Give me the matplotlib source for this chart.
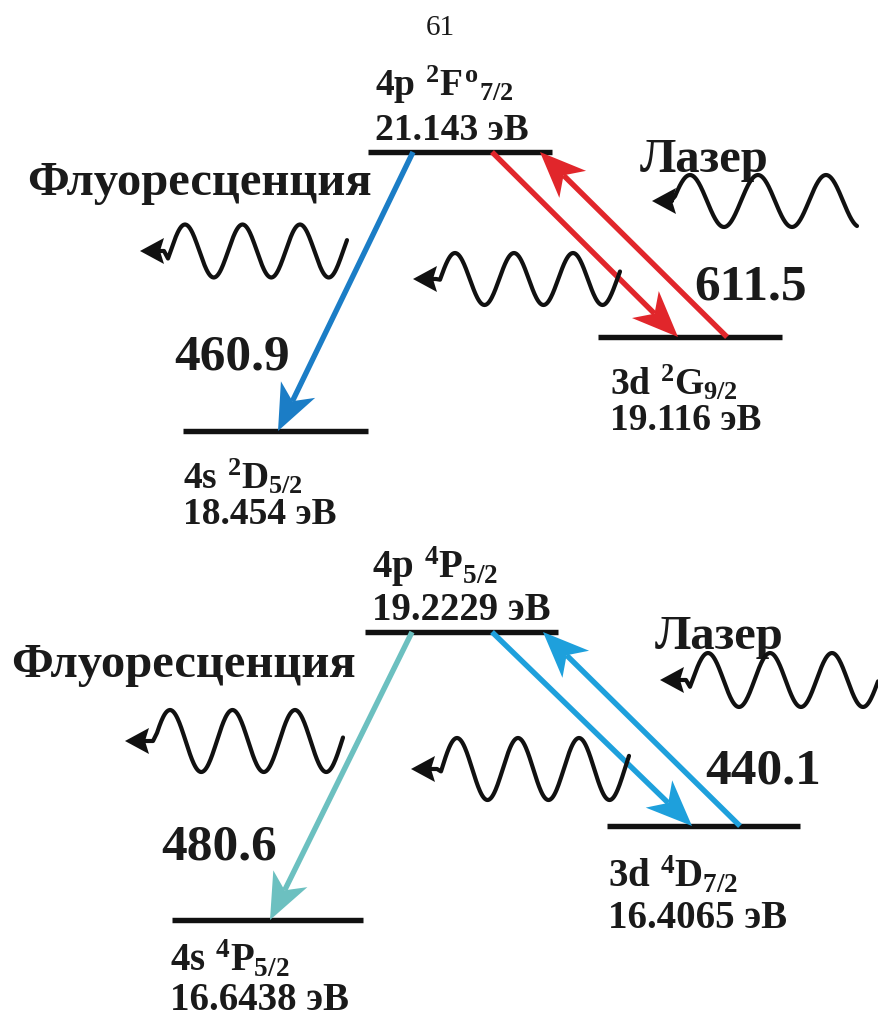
import matplotlib
matplotlib.use("Agg")
import matplotlib.pyplot as plt
from matplotlib.patches import Polygon
import numpy as np

plt.rcParams['font.family'] = ['Liberation Serif', 'DejaVu Serif']
plt.rcParams['mathtext.fontset'] = 'custom'
plt.rcParams['mathtext.rm'] = 'Liberation Serif:bold'
plt.rcParams['mathtext.it'] = 'Liberation Serif:bold'
plt.rcParams['mathtext.bf'] = 'Liberation Serif:bold'

# --- data: two schemes (top: 2F - 2G/2D, bottom: 4P - 4D/4P) ---
page_number = "61"
upper_terms = [r"$4p\ {}^{2}F^{o}{}_{7/2}$", r"$4p\ {}^{4}P_{5/2}$"]
upper_energies = ["21.143 эВ", "19.2229 эВ"]
pump_terms = [r"$3d\ {}^{2}G_{9/2}$", r"$3d\ {}^{4}D_{7/2}$"]
pump_energies = ["19.116 эВ", "16.4065 эВ"]
fluor_terms = [r"$4s\ {}^{2}D_{5/2}$", r"$4s\ {}^{4}P_{5/2}$"]
fluor_energies = ["18.454 эВ", "16.6438 эВ"]
laser_wavelengths = ["611.5", "440.1"]
fluor_wavelengths = ["460.9", "480.6"]
fluor_label = "Флуоресценция"
laser_label = "Лазер"

# --- layout (pixel space) ---
# waves: (arrow tip x, centre y, first peak x, period, start x, end x, amplitude)
panels = [
    dict(up=(368, 552, 152), pump=(598, 782, 337), low=(183, 368, 431),
         laser_col='#e1262b', fl_col='#1b7dc6',
         fl_arrow=(413, 278), dn_arrow=(492, 678), up_arrow=(727, 540),
         fl_text=(27, 183), la_text=(640, 160),
         lam_fl=(174, 357), lam_la=(694, 287),
         up_lbl=375, pump_lbl=610, low_lbl=183,
         up_dy=(-67, -22), pump_dy=(46, 83), low_dy=(46, 84), term_fs=27,
         waves=[(140, 251, 185, 57.5, 168, 347, 26.5),
                (413, 279, 455, 59, 440, 620, 26),
                (652, 201, 690, 68, 675, 857, 26)]),
    dict(up=(365, 558, 632), pump=(607, 800, 826), low=(172, 363, 920),
         laser_col='#1ea0dc', fl_col='#6cc0c0',
         fl_arrow=(412, 270), dn_arrow=(492, 692), up_arrow=(740, 543),
         fl_text=(11, 665), la_text=(655, 637),
         lam_fl=(161, 847), lam_la=(705, 772),
         up_lbl=372, pump_lbl=608, low_lbl=170,
         up_dy=(-65, -22), pump_dy=(50, 92), low_dy=(40, 80), term_fs=28,
         waves=[(125, 741, 170, 62.5, 157, 343, 31),
                (411, 769, 457, 61, 441, 629, 31),
                (660, 680, 708, 62, 690, 878, 27)]),
]

W, H = 879, 1023
fig = plt.figure(figsize=(W / 100, H / 100), dpi=100)
ax = fig.add_axes([0, 0, 1, 1])
ax.set_xlim(0, W)
ax.set_ylim(H, 0)
ax.axis('off')

TXT = '#1a1a1a'
INK = '#111111'


def arrow(x0, y0, x1, y1, color, hl=46, hw=19, lw=3.9):
    p0 = np.array([x0, y0], float)
    p1 = np.array([x1, y1], float)
    u = (p1 - p0) / np.linalg.norm(p1 - p0)
    n = np.array([-u[1], u[0]])
    base = p1 - u * hl
    notch = p1 - u * hl * 0.72
    ax.plot([p0[0], notch[0]], [p0[1], notch[1]], color=color, lw=lw,
            solid_capstyle='butt', zorder=3)
    ax.add_patch(Polygon([p1, base + n * hw, notch, base - n * hw],
                         closed=True, color=color, lw=0, zorder=4))


def wave(tip, yc, xp, period, xs, xe, amp):
    x = np.linspace(xs, xe, 300)
    y = yc - amp * np.cos(2 * np.pi * (x - xp) / period)
    bx = tip + 20
    xx = np.concatenate([[bx, xs - 4], x])
    yy = np.concatenate([[yc, yc], y])
    ax.plot(xx, yy, color=INK, lw=3.0, zorder=3,
            solid_capstyle='round', solid_joinstyle='round')
    ax.add_patch(Polygon([(tip, yc), (tip + 24, yc - 13), (bx, yc),
                          (tip + 24, yc + 13)], closed=True, color=INK,
                         lw=0, zorder=4))


ax.text(440, 28, page_number, fontsize=21, color=TXT, ha='center', va='center')

for i, p in enumerate(panels):
    # levels
    for key in ('up', 'pump', 'low'):
        x0, x1, y = p[key]
        ax.plot([x0, x1], [y, y], color=INK, lw=3.9,
                solid_capstyle='butt', zorder=2)
    yu = p['up'][2]
    yp = p['pump'][2]
    yl = p['low'][2]
    fs = p['term_fs']
    for lx, ly, dy, term, en in ((p['up_lbl'], yu, p['up_dy'], upper_terms[i], upper_energies[i]),
                                 (p['pump_lbl'], yp, p['pump_dy'], pump_terms[i], pump_energies[i]),
                                 (p['low_lbl'], yl, p['low_dy'], fluor_terms[i], fluor_energies[i])):
        ax.text(lx, ly + dy[0], term, fontsize=fs, color=TXT, va='center')
        ax.text(lx, ly + dy[1], en, fontsize=fs, color=TXT, va='center',
                fontweight='bold')

    # transitions
    fx0, fx1 = p['fl_arrow']
    arrow(fx0, yu, fx1, yl, p['fl_col'])
    dx0, dx1 = p['dn_arrow']
    arrow(dx0, yu, dx1, yp, p['laser_col'])
    ux0, ux1 = p['up_arrow']
    arrow(ux0, yp, ux1, yu, p['laser_col'])

    ax.text(*p['fl_text'], fluor_label, fontsize=35, fontweight='bold',
            color=TXT, va='center')
    ax.text(*p['la_text'], laser_label, fontsize=35, fontweight='bold',
            color=TXT, va='center')
    ax.text(*p['lam_fl'], fluor_wavelengths[i], fontsize=37,
            fontweight='bold', color=TXT, va='center')
    ax.text(*p['lam_la'], laser_wavelengths[i], fontsize=37,
            fontweight='bold', color=TXT, va='center')

    for w in p['waves']:
        wave(*w)

fig.savefig('out.png', dpi=100, facecolor='white')
